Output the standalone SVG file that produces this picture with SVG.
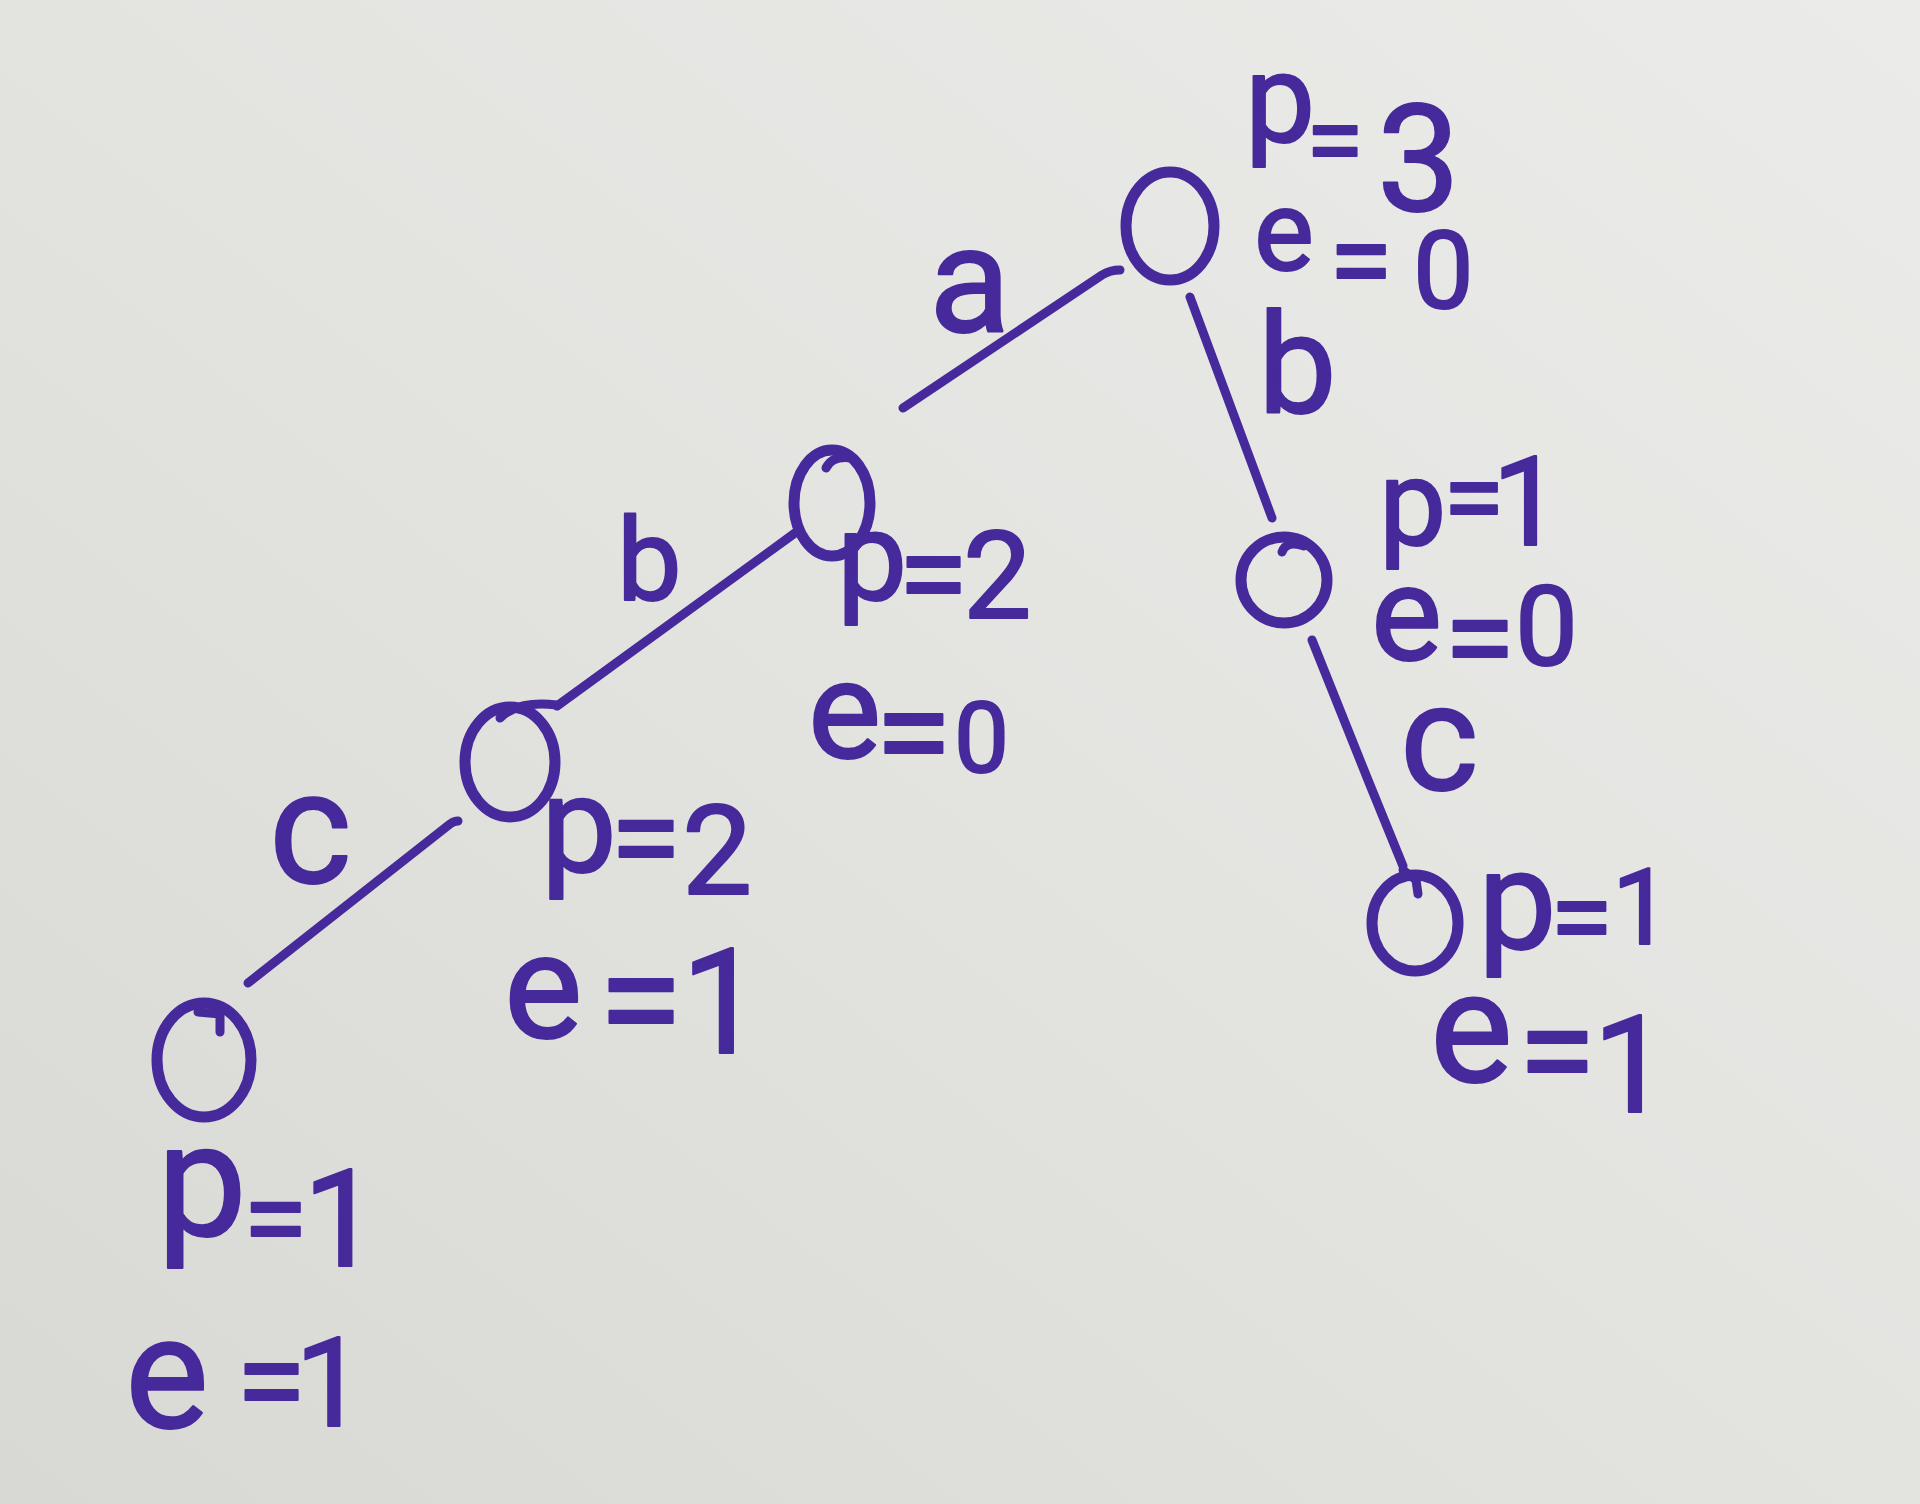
<svg xmlns="http://www.w3.org/2000/svg" width="1920" height="1504" viewBox="0 0 1920 1504">
<defs>
<linearGradient id="paper" x1="0" y1="1" x2="1" y2="0">
<stop offset="0" stop-color="#d8d8d5"/>
<stop offset="0.5" stop-color="#e3e3e0"/>
<stop offset="1" stop-color="#ebebe9"/>
</linearGradient>
<style>
.ink{fill:none;stroke:#46299a;stroke-width:11;stroke-linecap:round;stroke-linejoin:round}
.thin{stroke-width:9}
.t{font-family:Roboto,"Liberation Sans",sans-serif;fill:#46299a;stroke:#46299a;stroke-width:2;stroke-linejoin:round}
</style>
</defs>
<rect width="1920" height="1504" fill="url(#paper)"/>

<g id="connectors">
<path class="ink thin" d="M903,408 L1102,275 Q1110,270 1120,270"/>
<path class="ink thin" d="M1190,297 L1272,518"/>
<path class="ink thin" d="M557,706 L795,533"/>
<path class="ink thin" d="M248,983 L450,824 Q454,821 458,821"/>
<path class="ink thin" d="M1312,640 L1368,780 L1403,866"/>
<text class="t" x="929" y="332" style="font-size:150px">a</text>
<text class="t" x="1258" y="413" style="font-size:140px">b</text>
<text class="t" x="617" y="600" style="font-size:115px">b</text>
<text class="t" x="269" y="882" style="font-size:158px">c</text>
<text class="t" x="1400" y="790" style="font-size:150px">c</text>
</g>

<g id="node-root">
<ellipse class="ink" cx="1170" cy="226" rx="44" ry="54"/>
<text class="t"><tspan x="1245" y="142" style="font-size:125px">p</tspan><tspan x="1306" y="177" style="font-size:105px">=</tspan><tspan x="1377" y="211" style="font-size:148px">3</tspan></text>
<text class="t"><tspan x="1254" y="270" style="font-size:113px">e</tspan><tspan x="1329" y="301" style="font-size:116px">=</tspan><tspan x="1413" y="308" style="font-size:108px">0</tspan></text>
</g>

<g id="node-a">
<ellipse class="ink" cx="832" cy="503" rx="38" ry="53"/>
<path class="ink thin" d="M826,468 Q832,455 852,458"/>
<text class="t"><tspan x="837" y="600" style="font-size:125px">p</tspan><tspan x="898" y="618" style="font-size:128px">=</tspan><tspan x="963" y="618" style="font-size:122px">2</tspan></text>
<text class="t"><tspan x="808" y="758" style="font-size:138px">e</tspan><tspan x="875" y="780" style="font-size:140px">=</tspan><tspan x="954" y="772" style="font-size:98px">0</tspan></text>
</g>

<g id="node-ab">
<ellipse class="ink" cx="510" cy="762" rx="45" ry="55"/>
<path class="ink thin" d="M500,718 Q518,700 557,705"/>
<text class="t"><tspan x="541" y="871" style="font-size:135px">p</tspan><tspan x="610" y="882" style="font-size:130px">=</tspan><tspan x="682" y="894" style="font-size:125px">2</tspan></text>
<text class="t"><tspan x="504" y="1038" style="font-size:148px">e</tspan><tspan x="598" y="1053" style="font-size:155px">=</tspan><tspan x="681" y="1053" style="font-size:146px">1</tspan></text>
</g>

<g id="node-abc">
<ellipse class="ink" cx="204" cy="1060" rx="47" ry="57"/>
<path class="ink thin" d="M198,1012 L220,1014 L220,1032"/>
<text class="t"><tspan x="157" y="1236" style="font-size:160px">p</tspan><tspan x="243" y="1259" style="font-size:118px">=</tspan><tspan x="303" y="1266" style="font-size:136px">1</tspan></text>
<text class="t"><tspan x="125" y="1427" style="font-size:158px">e</tspan><tspan x="236" y="1425" style="font-size:128px">=</tspan><tspan x="295" y="1426" style="font-size:125px">1</tspan></text>
</g>

<g id="node-b">
<ellipse class="ink" cx="1284" cy="580" rx="43" ry="43"/>
<path class="ink thin" d="M1282,552 Q1286,540 1304,546"/>
<text class="t"><tspan x="1379" y="544" style="font-size:120px">p</tspan><tspan x="1443" y="536" style="font-size:112px">=</tspan><tspan x="1492" y="545" style="font-size:124px">1</tspan></text>
<text class="t"><tspan x="1371" y="660" style="font-size:134px">e</tspan><tspan x="1444" y="682" style="font-size:130px">=</tspan><tspan x="1515" y="665" style="font-size:112px">0</tspan></text>
</g>

<g id="node-bc">
<ellipse class="ink" cx="1415" cy="923" rx="43" ry="48"/>
<path class="ink thin" d="M1403,870 L1416,880 L1418,894"/>
<text class="t"><tspan x="1478" y="949" style="font-size:140px">p</tspan><tspan x="1550" y="956" style="font-size:115px">=</tspan><tspan x="1612" y="944" style="font-size:105px">1</tspan></text>
<text class="t"><tspan x="1430" y="1081" style="font-size:156px">e</tspan><tspan x="1518" y="1100" style="font-size:142px">=</tspan><tspan x="1593" y="1112" style="font-size:135px">1</tspan></text>
</g>
</svg>
